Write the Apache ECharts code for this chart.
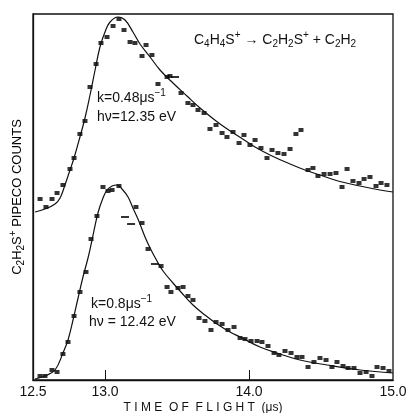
<!DOCTYPE html>
<html>
<head>
<meta charset="utf-8">
<script src="https://cdn.jsdelivr.net/npm/echarts@6/dist/echarts.min.js"></script>
<style>
  html, body { margin: 0; padding: 0; background: #fff; }
  #chart { width: 410px; height: 413px; }
</style>
</head>
<body>
<div id="chart"></div>
<script>
// time of flight (us) and PIPECO counts (arbitrary units, upper curve offset)
const upperTime = [12.549, 12.590, 12.632, 12.667, 12.708, 12.757, 12.785, 12.826, 12.861, 12.896,
  12.938, 12.972, 13.014, 13.056, 13.097, 13.132, 13.174, 13.208, 13.257, 13.285, 13.326, 13.368,
  13.431, 13.451, 13.528, 13.576, 13.611, 13.646, 13.688, 13.729, 13.771, 13.813, 13.847, 13.889,
  13.931, 13.965, 14.007, 14.042, 14.083, 14.125, 14.160, 14.201, 14.243, 14.285, 14.326, 14.361,
  14.410, 14.444, 14.479, 14.521, 14.563, 14.604, 14.646, 14.681, 14.722, 14.764, 14.799, 14.840,
  14.882, 14.917, 14.958];
const upperCounts = [181, 173, 181, 187, 195, 211, 222, 246, 259, 293,
  316, 337, 343, 354, 361, 350, 338, 337, 324, 335, 325, 296,
  303, 304, 287, 277, 275, 270, 267, 251, 255, 247, 243, 248,
  237, 245, 235, 240, 232, 222, 230, 227, 226, 231, 246, 250,
  210, 212, 204, 206, 206, 207, 193, 211, 199, 197, 201, 203,
  194, 197, 195];

const upperFitTime = [12.514, 12.583, 12.653, 12.688, 12.722, 12.757, 12.785, 12.826, 12.861, 12.896,
  12.931, 12.965, 13.000, 13.035, 13.090, 13.139, 13.194, 13.243, 13.313, 13.382, 13.472, 13.569,
  13.660, 13.799, 13.924, 14.042, 14.160, 14.285, 14.389, 14.493, 14.618, 14.771, 14.910, 15.000];
const upperFitCounts = [168, 171, 176, 182, 195, 210, 222, 243, 262, 285,
  310, 333, 348, 358, 363, 360, 348, 336, 323, 310, 297, 284,
  272, 256, 244, 233, 224, 216, 210, 205, 199, 194, 190, 188];

const lowerTime = [12.549, 12.583, 12.632, 12.667, 12.708, 12.743, 12.785, 12.826, 12.868, 12.903,
  12.944, 12.986, 13.021, 13.049, 13.097, 13.215, 13.257, 13.299, 13.389, 13.431, 13.458, 13.507,
  13.542, 13.576, 13.611, 13.653, 13.694, 13.736, 13.771, 13.813, 13.854, 13.896, 13.938, 13.972,
  14.014, 14.056, 14.090, 14.132, 14.174, 14.208, 14.250, 14.292, 14.333, 14.368, 14.410, 14.451,
  14.493, 14.535, 14.576, 14.611, 14.653, 14.688, 14.729, 14.771, 14.813, 14.854, 14.889, 14.931,
  14.972];
const lowerCounts = [4, 4, 10, 8, 26, 38, 64, 88, 108, 141,
  164, 193, 189, 190, 194, 173, 157, 131, 114, 93, 88, 92,
  93, 84, 80, 62, 59, 50, 58, 56, 50, 53, 42, 41,
  39, 39, 38, 34, 27, 25, 29, 27, 23, 23, 13, 18,
  22, 20, 13, 18, 14, 12, 12, 7, 8, 4, 13, 12,
  9];

const lowerFitTime = [12.514, 12.583, 12.653, 12.708, 12.743, 12.778, 12.813, 12.847, 12.882, 12.910,
  12.951, 12.986, 13.014, 13.049, 13.083, 13.118, 13.160, 13.194, 13.229, 13.278, 13.313, 13.361,
  13.403, 13.472, 13.521, 13.611, 13.694, 13.778, 13.868, 13.938, 14.076, 14.215, 14.354, 14.542,
  14.771, 15.000];
const lowerFitCounts = [1, 4, 10, 27, 40, 60, 82, 103, 122, 140,
  167, 182, 190, 194, 195, 191, 183, 172, 161, 143, 132, 119,
  109, 97, 89, 75, 65, 56, 48, 43, 33, 26, 20, 15,
  10, 7];

// points printed as short dashes
const dashTime = [13.486, 13.139, 13.181, 13.347];
const dashCounts = [303, 163, 156, 116];

const xLabels = [12.5, 13.0, 14.0, 15.0];
const xTicks = [13.0, 14.0];

const zip = (xs, ys) => xs.map((x, i) => [x, ys[i]]);

const chart = echarts.init(document.getElementById("chart"));
const font = "Liberation Sans";
const ink = "#111";

// subscripts pushed down, superscripts pushed up with padding
const rich = {
  m: { fontFamily: font, fontSize: 14, lineHeight: 18, color: ink },
  s: { fontFamily: font, fontSize: 10, lineHeight: 10, padding: [9, 0, 0, 0], color: ink },
  u: { fontFamily: font, fontSize: 10, lineHeight: 10, padding: [0, 0, 9, 0], color: ink },
};

const txt = (x, y, text) => ({
  type: "text",
  x: x,
  y: y,
  style: { text: text, rich: rich, fill: ink, font: "14px " + font },
});

const option = {
  backgroundColor: "#fff",
  animation: false,
  grid: {
    left: 33,
    top: 14,
    width: 360,
    height: 366,
    show: true,
    borderColor: ink,
    borderWidth: 1.3,
  },
  xAxis: {
    type: "value",
    min: 12.5,
    max: 15,
    interval: 0.5,
    axisLine: { lineStyle: { color: ink, width: 1.3 } },
    axisTick: {
      customValues: xTicks,
      inside: true,
      length: 10,
      lineStyle: { color: ink, width: 1 },
    },
    axisLabel: {
      customValues: xLabels,
      formatter: (v) => v.toFixed(1),
      fontFamily: font,
      fontSize: 14,
      color: ink,
      margin: 5,
    },
    splitLine: { show: false },
  },
  yAxis: {
    type: "value",
    min: 0,
    max: 366,
    axisLine: { show: true, lineStyle: { color: ink, width: 1.3 } },
    axisTick: { show: false },
    axisLabel: { show: false },
    splitLine: { show: false },
  },
  series: [
    {
      type: "line",
      data: zip(upperFitTime, upperFitCounts),
      smooth: 0.4,
      showSymbol: false,
      lineStyle: { color: ink, width: 1.2 },
    },
    {
      type: "line",
      data: zip(lowerFitTime, lowerFitCounts),
      smooth: 0.4,
      showSymbol: false,
      lineStyle: { color: ink, width: 1.2 },
    },
    {
      type: "scatter",
      data: zip(upperTime, upperCounts),
      symbol: "rect",
      symbolSize: [5, 4],
      itemStyle: { color: "#000" },
    },
    {
      type: "scatter",
      data: zip(lowerTime, lowerCounts),
      symbol: "rect",
      symbolSize: [5, 4],
      itemStyle: { color: "#000" },
    },
    {
      type: "scatter",
      data: zip(dashTime, dashCounts),
      symbol: "rect",
      symbolSize: [8, 2],
      itemStyle: { color: "#000" },
    },
  ],
  graphic: [
    txt(194, 31, "{m|C}{s|4}{m|H}{s|4}{m|S}{u|+}{m| \u2192 C}{s|2}{m|H}{s|2}{m|S}{u|+}{m| + C}{s|2}{m|H}{s|2}"),
    txt(97, 89, "{m|k=0.48\u03bcs}{u|\u22121}"),
    txt(97, 108, "{m|h\u03bd=12.35 eV}"),
    txt(91, 295, "{m|k=0.8\u03bcs}{u|\u22121}"),
    txt(89, 313, "{m|h\u03bd = 12.42 eV}"),
    {
      type: "text",
      x: 17,
      y: 197,
      rotation: Math.PI / 2,
      style: {
        text: "{m|C}{s|2}{m|H}{s|2}{m|S}{u|+}{m| PIPECO COUNTS}",
        rich: {
          m: { fontFamily: font, fontSize: 13, lineHeight: 16, color: ink },
          s: { fontFamily: font, fontSize: 10, lineHeight: 10, padding: [8, 0, 0, 0], color: ink },
          u: { fontFamily: font, fontSize: 10, lineHeight: 10, padding: [0, 0, 8, 0], color: ink },
        },
        align: "center",
        verticalAlign: "middle",
      },
    },
    {
      type: "text",
      x: 203,
      y: 408,
      style: {
        text: "T I M E  O F  F L I G H T  (\u03bcs)",
        fill: ink,
        font: "12px " + font,
        align: "center",
        verticalAlign: "middle",
      },
    },
  ],
};

chart.setOption(option);
</script>
</body>
</html>
